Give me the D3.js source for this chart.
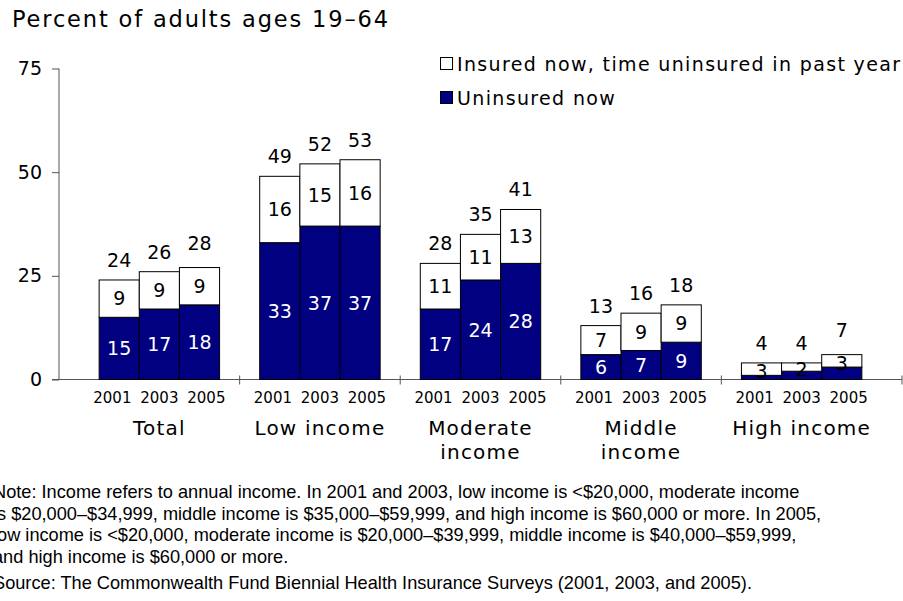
<!DOCTYPE html>
<html>
<head>
<meta charset="utf-8">
<script src="https://cdn.jsdelivr.net/npm/d3@7"></script>
<style>
  html, body { margin: 0; padding: 0; background: #fff; }
  svg { display: block; }
  .lbl { font-family: "DejaVu Sans", Verdana, sans-serif; fill: #000; }
  .note { font-family: "Liberation Sans", Arial, sans-serif; fill: #000; }
</style>
</head>
<body>
<script>
// Income groups, survey years and the two stacked series (percent of adults 19–64)
const groups = ["Total", "Low income", "Moderate income", "Middle income", "High income"];
const groupLines = [["Total"], ["Low income"], ["Moderate", "income"], ["Middle", "income"], ["High income"]];
const years = ["2001", "2003", "2005"];
const uninsuredNow = [
  [15, 17, 18],
  [33, 37, 37],
  [17, 24, 28],
  [6, 7, 9],
  [1, 2, 3]
];
const insuredGap = [
  [9, 9, 9],
  [16, 15, 16],
  [11, 11, 13],
  [7, 9, 9],
  [3, 2, 3]
];
const totals = [
  [24, 26, 28],
  [49, 52, 53],
  [28, 35, 41],
  [13, 16, 18],
  [4, 4, 7]
];
const yTicks = [0, 25, 50, 75];
const titleText = "Percent of adults ages 19–64";
const legendItems = ["Insured now, time uninsured in past year", "Uninsured now"];
const noteLines = [
  "Note: Income refers to annual income. In 2001 and 2003, low income is <$20,000, moderate income",
  "is $20,000–$34,999, middle income is $35,000–$59,999, and high income is $60,000 or more. In 2005,",
  "low income is <$20,000, moderate income is $20,000–$39,999, middle income is $40,000–$59,999,",
  "and high income is $60,000 or more."
];
const sourceLine = "Source: The Commonwealth Fund Biennial Health Insurance Surveys (2001, 2003, and 2005).";

const W = 903, H = 601;
const NAVY = "#000080";

const svg = d3.select("body").append("svg").attr("width", W).attr("height", H);

const y = d3.scaleLinear().domain([0, 75]).range([379.5, 68.5]);
const x = d3.scaleBand().domain(groups).range([59, 902]).paddingInner(0.25).paddingOuter(0.25);
const xs = d3.scaleBand().domain(years).range([0, x.bandwidth()]);
// year captions are spread a little wider than the bars themselves
const xYear = d3.scalePoint().domain(years).range([-47, 47]);

// Title
svg.append("text").attr("class", "lbl")
  .attr("x", 12).attr("y", 27)
  .attr("font-size", 22.5)
  .attr("textLength", 376).attr("lengthAdjust", "spacing")
  .text(titleText);

// Y axis
const yAxis = d3.axisLeft(y).tickValues(yTicks).tickSize(7).tickPadding(10);
const gy = svg.append("g").attr("transform", "translate(59,0)").call(yAxis);
gy.select(".domain").attr("stroke", "#555").attr("d", `M0,${y(75)}V${y(0)}`);
gy.selectAll(".tick line").attr("stroke", "#555");
gy.selectAll(".tick text")
  .attr("class", "lbl")
  .attr("font-size", 19)
  .attr("fill", "#000");
gy.attr("font-family", null).attr("font-size", null);

// X axis line with crossing ticks at group boundaries
const boundaries = [x.range()[0]].concat(groups.slice(1).map(g => x(g) - x.step() * x.paddingInner() / 2), [x.range()[1]]);
svg.append("line")
  .attr("x1", 52).attr("x2", x.range()[1])
  .attr("y1", y(0)).attr("y2", y(0))
  .attr("stroke", "#555");
svg.selectAll(".xtick").data(boundaries.slice(1)).join("line")
  .attr("class", "xtick")
  .attr("x1", d => d).attr("x2", d => d)
  .attr("y1", y(0) - 4).attr("y2", y(0) + 5)
  .attr("stroke", "#555");

// Bars
const cells = [];
groups.forEach((g, gi) => {
  years.forEach((yr, yi) => {
    cells.push({
      g, gi, yr, yi,
      u: uninsuredNow[gi][yi],
      i: insuredGap[gi][yi],
      t: totals[gi][yi],
      x0: x(g) + xs(yr)
    });
  });
});

const bw = xs.bandwidth();
const bars = svg.append("g");

bars.selectAll(".seg-u").data(cells).join("rect")
  .attr("x", d => d.x0).attr("width", bw)
  .attr("y", d => y(d.u)).attr("height", d => y(0) - y(d.u))
  .attr("fill", NAVY).attr("stroke", "#000").attr("stroke-width", 1);

bars.selectAll(".seg-i").data(cells).join("rect")
  .attr("x", d => d.x0).attr("width", bw)
  .attr("y", d => y(d.u + d.i)).attr("height", d => y(d.u) - y(d.u + d.i))
  .attr("fill", "#fff").attr("stroke", "#000").attr("stroke-width", 1);

// Segment labels
const labels = svg.append("g");
labels.selectAll(".lu").data(cells.filter(d => d.u >= 5)).join("text")
  .attr("class", "lbl")
  .attr("x", d => d.x0 + bw / 2)
  .attr("y", d => (y(0) + y(d.u)) / 2)
  .attr("dy", "0.36em")
  .attr("text-anchor", "middle")
  .attr("font-size", 19)
  .style("fill", "#fff")
  .text(d => d.u);

labels.selectAll(".li").data(cells).join("text")
  .attr("class", "lbl")
  .attr("x", d => d.x0 + bw / 2)
  .attr("y", d => (y(d.u) + y(d.u + d.i)) / 2 + (d.i < 4 ? 2 : 0))
  .attr("dy", "0.36em")
  .attr("text-anchor", "middle")
  .attr("font-size", 19)
  .text(d => d.i);

labels.selectAll(".lt").data(cells).join("text")
  .attr("class", "lbl")
  .attr("x", d => d.x0 + bw / 2)
  .attr("y", d => y(d.t) - 13)
  .attr("text-anchor", "middle")
  .attr("font-size", 19)
  .text(d => d.t);

// Year captions under each group
labels.selectAll(".ly").data(cells).join("text")
  .attr("class", "lbl")
  .attr("x", d => x(d.g) + x.bandwidth() / 2 + xYear(d.yr))
  .attr("y", y(0) + 23)
  .attr("text-anchor", "middle")
  .attr("font-size", 15)
  .text(d => d.yr);

// Group labels
groups.forEach((g, gi) => {
  const t = labels.append("text").attr("class", "lbl")
    .attr("text-anchor", "middle")
    .attr("font-size", 20)
    .attr("letter-spacing", 1.2)
    .attr("x", x(g) + x.bandwidth() / 2);
  groupLines[gi].forEach((line, li) => {
    t.append("tspan")
      .attr("x", x(g) + x.bandwidth() / 2)
      .attr("y", 435 + li * 24)
      .text(line);
  });
});

// Legend
const legendColors = ["#fff", NAVY];
const lg = svg.append("g");
legendItems.forEach((txt, k) => {
  const ly = 64 + k * 34;
  lg.append("rect")
    .attr("x", 440.5).attr("y", ly - 6.5)
    .attr("width", 12).attr("height", 12)
    .attr("fill", legendColors[k]).attr("stroke", "#000");
  lg.append("text").attr("class", "lbl")
    .attr("x", 457).attr("y", ly + 7)
    .attr("font-size", 19)
    .attr("letter-spacing", 1.35)
    .text(txt);
});

// Notes
const notes = svg.append("g");
noteLines.forEach((line, k) => {
  notes.append("text").attr("class", "note")
    .attr("x", -7).attr("y", 498 + k * 21.5)
    .attr("font-size", 18.2)
    .text(line);
});
notes.append("text").attr("class", "note")
  .attr("x", -7).attr("y", 589)
  .attr("font-size", 18.2)
  .text(sourceLine);
</script>
</body>
</html>
